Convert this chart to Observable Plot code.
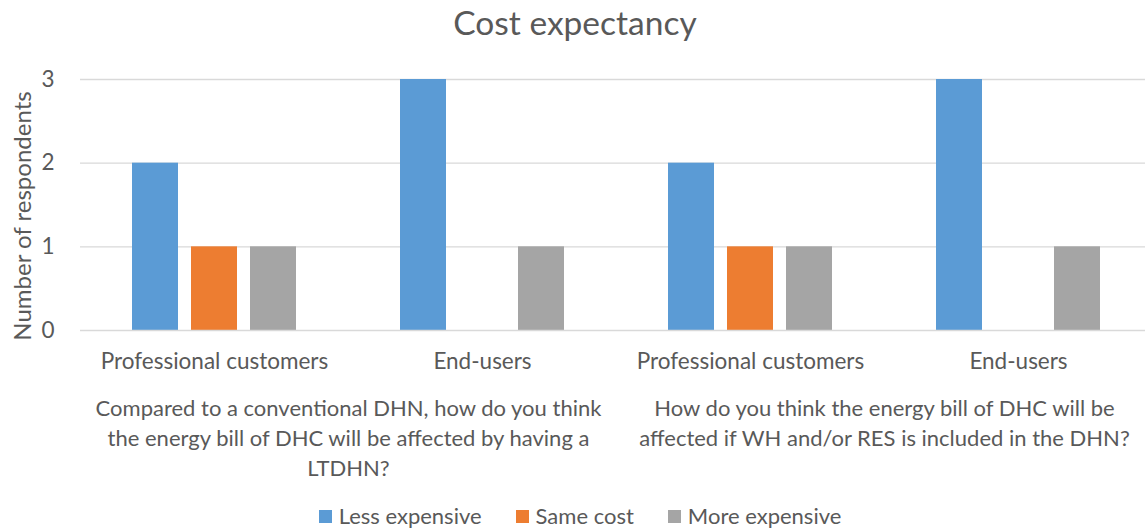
<!DOCTYPE html>
<html>
<head>
<meta charset="utf-8">
<script src="https://cdn.jsdelivr.net/npm/d3@7"></script>
<script src="https://cdn.jsdelivr.net/npm/@observablehq/plot@0.6"></script>
<style>
  html, body { margin: 0; padding: 0; background: #fff; overflow: hidden; }
  #wrap { position: relative; width: 1145px; height: 528px; overflow: hidden; font-family: Lato, sans-serif; color: #595959; }
  #chart { position: absolute; left: 0; top: 0; }
  #chart svg { max-width: none !important; }
  #title { position: absolute; left: 0; width: 1150px; top: 2px; text-align: center; font-size: 33.5px; }
  #legend { position: absolute; left: 0; width: 1160px; top: 503px; display: flex; justify-content: center; font-size: 22px; line-height: 26px; }
  .item { display: flex; align-items: center; margin: 0 17px; }
  .sw { width: 13px; height: 13px; margin-right: 7px; }
</style>
</head>
<body>
<div id="wrap">
  <div id="chart"></div>
  <div id="title"></div>
  <div id="legend"></div>
</div>
<script>
const chartTitle = "Cost expectancy";
const yLabel = "Number of respondents";
const questions = [
  "Compared to a conventional DHN, how do you think\nthe energy bill of DHC will be affected by having a\nLTDHN?",
  "How do you think the energy bill of DHC will be\naffected if WH and/or RES is included in the DHN?"
];
const respondentGroups = ["Professional customers", "End-users"];
const seriesNames = ["Less expensive", "Same cost", "More expensive"];
const seriesColors = ["#5b9bd5", "#ed7d31", "#a5a5a5"];
// values per (question, group): Q1-Professional, Q1-End-users, Q2-Professional, Q2-End-users
const lessExpensive = [2, 3, 2, 3];
const sameCost = [1, 0, 1, 0];
const moreExpensive = [1, 1, 1, 1];
const yTicks = [0, 1, 2, 3];

const seriesValues = [lessExpensive, sameCost, moreExpensive];
const keys = [];
const groupRows = [];
questions.forEach((q, qi) => respondentGroups.forEach((g, gi) => {
  const key = qi + "|" + g;
  keys.push(key);
  groupRows.push({key, group: g, question: q, qi, gi});
}));
const bars = [];
groupRows.forEach((r, i) => seriesNames.forEach((s, si) => {
  bars.push({key: r.key, series: s, value: seriesValues[si][i]});
}));
const questionRows = groupRows.filter(r => r.gi === 0);

const W = 1152, H = 528, mL = 79, mR = 0, mT = 79, mB = 198;
const facetW = (W - mL - mR) / keys.length;
const FS = 22.5;

const plot = Plot.plot({
  width: W, height: H,
  marginLeft: mL, marginRight: mR, marginTop: mT, marginBottom: mB,
  style: {fontFamily: "Lato, sans-serif", fontSize: FS + "px", color: "#595959", background: "transparent"},
  fx: {domain: keys, padding: 0, axis: null, label: null},
  x: {domain: seriesNames, paddingInner: 0.22, paddingOuter: 0.865, axis: null},
  y: {domain: [0, 3], axis: null},
  color: {domain: seriesNames, range: seriesColors},
  marks: [
    Plot.gridY({ticks: [1, 2, 3], stroke: "#d9d9d9", strokeOpacity: 1, strokeWidth: 1.3}),
    Plot.barY(bars.filter(d => d.value > 0), {fx: "key", x: "series", y: "value", fill: "series"}),
    Plot.ruleY([0], {stroke: "#d9d9d9", strokeWidth: 1.3}),
    Plot.axisY({ticks: yTicks, tickFormat: "d", tickSize: 0, tickPadding: 26, label: null, fontSize: FS}),
    Plot.text([{key: keys[0], label: yLabel}], {fx: "key", text: "label", frameAnchor: "left", rotate: -90, textAnchor: "middle", lineAnchor: "middle", dx: -57, dy: 11, fill: "#595959", fontSize: 24}),
    Plot.ruleX(questionRows, {fx: "key", y1: 0, y2: -1.8, dx: -facetW / 2, stroke: "#d9d9d9", strokeWidth: 1.3}),
    Plot.text(groupRows, {fx: "key", text: "group", frameAnchor: "bottom", lineAnchor: "middle", dy: 31, fill: "#595959", fontSize: FS}),
    Plot.text(questionRows, {fx: "key", text: "question", frameAnchor: "bottom-right", textAnchor: "middle", lineAnchor: "top", dy: 64, lineHeight: 1.36, fill: "#595959", fontSize: 22})
  ]
});
document.getElementById("chart").appendChild(plot);
document.getElementById("title").textContent = chartTitle;
const legend = document.getElementById("legend");
seriesNames.forEach((s, i) => {
  const it = document.createElement("div"); it.className = "item";
  const sw = document.createElement("div"); sw.className = "sw"; sw.style.background = seriesColors[i];
  const tx = document.createElement("span"); tx.textContent = s;
  it.appendChild(sw); it.appendChild(tx); legend.appendChild(it);
});
</script>
</body>
</html>
